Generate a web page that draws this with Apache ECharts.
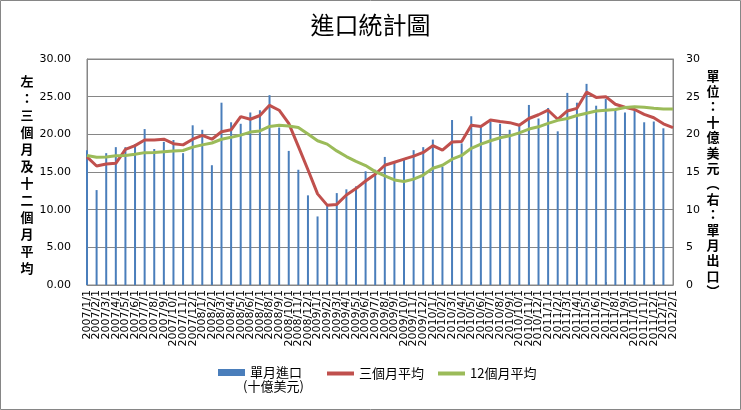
<!DOCTYPE html>
<html><head><meta charset="utf-8">
<script src="https://cdn.jsdelivr.net/npm/echarts@6/dist/echarts.min.js"></script>
<style>html,body{margin:0;padding:0;background:#fff}#c{width:741px;height:410px}</style>
</head><body><div id="c"></div>
<script>
var categories = ['2007/1/1','2007/2/1','2007/3/1','2007/4/1','2007/5/1','2007/6/1','2007/7/1','2007/8/1','2007/9/1','2007/10/1','2007/11/1','2007/12/1',
'2008/1/1','2008/2/1','2008/3/1','2008/4/1','2008/5/1','2008/6/1','2008/7/1','2008/8/1','2008/9/1','2008/10/1','2008/11/1','2008/12/1',
'2009/1/1','2009/2/1','2009/3/1','2009/4/1','2009/5/1','2009/6/1','2009/7/1','2009/8/1','2009/9/1','2009/10/1','2009/11/1','2009/12/1',
'2010/1/1','2010/2/1','2010/3/1','2010/4/1','2010/5/1','2010/6/1','2010/7/1','2010/8/1','2010/9/1','2010/10/1','2010/11/1','2010/12/1',
'2011/1/1','2011/2/1','2011/3/1','2011/4/1','2011/5/1','2011/6/1','2011/7/1','2011/8/1','2011/9/1','2011/10/1','2011/11/1','2011/12/1',
'2012/1/1','2012/2/1'];
var monthlyImports = [17.9,12.6,17.5,18.3,18.3,18.7,20.7,18.05,19.0,19.25,17.5,21.2,
20.6,15.9,24.2,21.6,21.4,22.9,23.2,25.2,20.9,17.8,15.3,11.9,
9.1,10.6,12.2,12.7,13.1,15.1,15.3,17.0,16.2,16.6,17.9,18.3,
19.3,15.7,21.9,18.8,22.4,21.0,21.7,21.4,20.6,21.1,23.9,22.1,
23.5,20.4,25.5,24.2,26.7,23.8,24.7,23.2,22.9,23.2,21.6,21.7,
20.8,null];
var avg3 = [17.0,15.8,16.06,16.15,18.0,18.5,19.25,19.25,19.35,18.76,18.6,19.35,
19.87,19.35,20.35,20.6,22.35,22.0,22.5,23.85,23.2,21.45,18.4,15.3,
12.1,10.6,10.7,11.95,12.8,13.8,14.7,15.9,16.3,16.7,17.1,17.6,
18.5,17.9,18.98,19.05,21.2,21.05,21.9,21.7,21.55,21.2,22.1,22.6,
23.2,22.0,23.1,23.45,25.6,24.9,25.0,24.0,23.6,23.3,22.65,22.2,
21.4,20.9];
var avg12 = [17.2,16.95,17.0,17.15,17.2,17.35,17.57,17.6,17.7,17.8,17.85,18.3,
18.6,18.85,19.35,19.6,19.9,20.3,20.45,21.05,21.2,21.1,20.9,20.05,
19.15,18.7,17.8,17.05,16.4,15.85,15.05,14.5,13.95,13.75,14.05,14.6,
15.5,15.9,16.7,17.2,18.15,18.7,19.15,19.55,19.8,20.2,20.7,21.0,
21.45,21.85,22.1,22.5,22.8,23.1,23.2,23.3,23.55,23.65,23.6,23.45,
23.35,23.35];
var leftTicks = ['0.00','5.00','10.00','15.00','20.00','25.00','30.00'];
var leftTitle = '左：三個月及十二個月平均';
var rightTitle = '單位：十億美元︵右：單月出口︶';

var chart = echarts.init(document.getElementById('c'), null, {renderer:'canvas'});
var gray = '#868686';
var font = 'DejaVu Sans';
var cjk = '"Noto Sans CJK TC"';
chart.setOption({
  animation: false,
  backgroundColor: '#fff',
  title: {text: '進口統計圖', left: 'center', top: 8,
    textStyle: {fontFamily: cjk, fontSize: 24, fontWeight: 'normal', color: '#000'}},
  grid: {left: 87, right: 68, top: 59, bottom: 125, show: true, borderColor: gray, borderWidth: 1},
  legend: [
    {data: ['單月進口'], left: 213, top: 361, itemWidth: 27, itemHeight: 7, icon: 'rect',
      textStyle: {fontFamily: cjk, fontSize: 13, color: '#000'}},
    {data: ['三個月平均'], left: 322, top: 362, itemWidth: 27, itemHeight: 4, icon: 'rect',
      textStyle: {fontFamily: cjk, fontSize: 13, color: '#000'}},
    {data: ['12個月平均'], left: 433, top: 362, itemWidth: 27, itemHeight: 4, icon: 'rect',
      textStyle: {fontFamily: cjk, fontSize: 13, color: '#000'}}
  ],
  xAxis: {type: 'category', data: categories, boundaryGap: false,
    axisLine: {lineStyle: {color: gray}},
    axisTick: {show: true, inside: true, length: 3, lineStyle: {color: gray}},
    axisLabel: {interval: 0, rotate: 90, margin: 5, fontFamily: font, fontSize: 11, color: '#000'}},
  yAxis: [
    {type: 'value', min: 0, max: 30, interval: 5,
      axisLine: {show: true, lineStyle: {color: gray}}, axisTick: {show: false},
      splitLine: {lineStyle: {color: gray}},
      axisLabel: {margin: 16, fontFamily: font, fontSize: 11, color: '#000',
        formatter: function(v){ return leftTicks[v/5]; }}},
    {type: 'value', min: 0, max: 30, interval: 5, position: 'right',
      axisLine: {show: true, lineStyle: {color: gray}}, axisTick: {show: false},
      splitLine: {show: false},
      axisLabel: {margin: 13, fontFamily: font, fontSize: 11, color: '#000'}}
  ],
  series: [
    {name: '單月進口', type: 'bar', yAxisIndex: 1, data: monthlyImports, barWidth: 2,
      itemStyle: {color: '#4A7EBB'}},
    {name: '三個月平均', type: 'line', yAxisIndex: 0, data: avg3, symbol: 'none',
      lineStyle: {color: '#C0504D', width: 3}, itemStyle: {color: '#C0504D'}},
    {name: '12個月平均', type: 'line', yAxisIndex: 0, data: avg12, symbol: 'none',
      lineStyle: {color: '#9BBB59', width: 3}, itemStyle: {color: '#9BBB59'}}
  ],
  graphic: [
    {type: 'rect', shape: {x: 0.5, y: 0.5, width: 740, height: 409}, style: {fill: 'none', stroke: gray, lineWidth: 1}, silent: true},
    {type: 'text', x: 27, y: 73, style: {text: leftTitle.split('').join('\n'), fontFamily: cjk, fontSize: 13, fontWeight: 'bold', lineHeight: 17, textAlign: 'center', fill: '#000'}},
    {type: 'text', x: 713, y: 68, style: {text: rightTitle.split('').join('\n'), fontFamily: cjk, fontSize: 13, fontWeight: 'bold', lineHeight: 15.4, textAlign: 'center', fill: '#000'}},
    {type: 'text', x: 243, y: 380, style: {text: '(十億美元)', fontFamily: cjk, fontSize: 13, fill: '#000'}}
  ]
});
</script></body></html>
